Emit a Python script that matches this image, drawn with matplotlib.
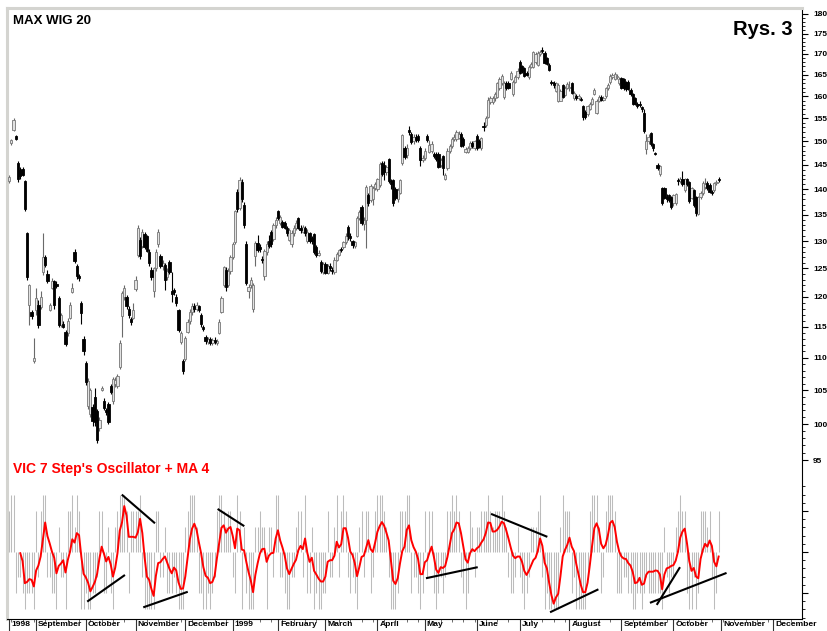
import numpy as np
import matplotlib
matplotlib.use("Agg")
import matplotlib.pyplot as plt
from matplotlib.ticker import FixedLocator, NullFormatter, FixedFormatter

plt.rcParams['font.family'] = ['Liberation Sans', 'DejaVu Sans']
plt.rcParams['font.weight'] = 'bold'

# ---------------- data (one entry per trading day) ----------------
opens = [
141.6,149.6,152.5,151.2,145.4,144.0,144.2,141.6,131.6,118.7,
117.4,109.5,117.8,118.7,118.3,124.3,127.0,124.0,117.8,121.5,
122.7,122.2,119.8,115.3,115.5,114.2,114.0,116.5,120.9,127.9,
125.4,123.6,119.0,113.0,109.2,102.6,101.5,102.5,104.0,101.9,
99.4,105.0,103.4,101.9,103.0,105.7,103.4,106.0,105.7,108.5,
116.7,120.0,120.0,118.0,116.3,116.5,121.3,127.4,130.3,129.1,
131.3,130.9,128.0,124.8,121.0,125.0,129.5,127.2,125.5,125.7,
123.5,126.1,121.0,121.2,120.0,117.8,112.5,109.5,109.8,114.2,
116.0,117.5,118.5,118.0,118.4,117.0,114.9,113.3,112.5,113.0,
112.4,112.9,112.3,114.0,117.5,122.1,124.8,122.1,124.5,127.0,
129.8,139.4,136.3,141.5,137.0,129.4,121.0,122.0,118.0,127.2,
129.6,129.0,126.8,123.6,128.0,130.0,131.7,130.4,133.0,135.7,
133.4,133.6,133.5,132.5,130.3,129.4,131.5,132.5,134.3,132.5,
131.8,132.5,130.0,131.5,130.5,131.3,129.0,127.5,126.1,124.3,
125.8,124.2,125.5,124.8,124.4,126.6,127.5,128.5,128.9,129.8,
132.6,131.0,130.0,129.1,131.0,134.4,136.6,133.2,134.0,138.8,
137.8,138.0,140.3,140.0,140.9,145.4,145.0,143.5,146.2,141.6,
141.8,140.0,138.0,139.3,145.4,148.6,147.0,152.4,151.5,150.0,
151.0,151.2,148.6,146.0,146.5,151.2,147.8,148.0,147.2,147.3,
147.3,145.0,146.8,142.1,144.4,148.0,148.9,150.5,150.4,150.8,
151.5,150.5,147.8,147.8,148.5,149.6,148.5,151.2,150.0,148.5,
153.2,153.5,155.4,158.6,158.6,159.5,159.8,161.8,163.0,159.8,
163.0,163.0,164.0,160.5,163.4,164.5,168.0,167.0,166.5,165.3,
164.4,166.8,166.8,168.0,167.4,170.0,170.9,170.2,169.0,167.4,
163.2,163.0,161.3,159.0,159.0,162.5,160.3,162.0,161.8,163.0,
159.5,160.0,159.5,159.4,157.8,156.5,155.9,157.2,158.3,160.4,
156.3,159.0,159.9,159.1,160.0,161.8,163.2,164.5,164.0,164.4,
163.0,164.2,164.0,163.3,163.4,161.5,160.5,159.5,158.3,158.2,
157.5,156.2,148.3,150.0,151.7,149.4,147.5,145.0,143.1,140.2,
140.2,138.5,138.8,138.4,137.2,137.3,141.9,141.6,142.0,139.9,
142.0,141.4,138.3,139.8,138.4,135.2,138.4,139.2,140.5,141.3,
140.8,139.4,139.8,141.2,142.1]
highs = [
143.0,150.5,155.0,151.4,145.8,144.5,144.6,141.8,131.8,122.3,
117.8,113.2,121.5,119.5,121.0,131.6,127.5,124.8,119.0,123.3,
123.0,122.8,120.2,117.3,116.0,114.5,116.5,119.2,122.5,128.5,
125.8,124.0,119.3,113.5,109.5,106.8,105.4,103.0,105.3,102.2,
101.0,105.6,103.8,102.3,103.3,106.0,107.0,107.0,107.5,112.8,
121.0,122.0,120.4,118.5,116.6,119.0,123.6,133.0,130.8,132.2,
131.7,131.2,128.5,125.2,125.3,128.5,132.2,127.6,126.5,126.0,
125.0,126.5,124.4,121.5,120.5,118.0,114.3,109.8,113.5,116.2,
118.0,119.0,119.0,119.2,118.6,117.3,115.3,113.6,113.3,113.3,
113.2,113.3,113.0,116.2,120.2,125.5,125.2,125.0,127.5,129.8,
136.0,140.0,142.5,142.0,137.5,130.0,122.3,123.5,122.5,130.0,
131.2,129.5,127.2,128.6,130.0,131.2,132.0,133.5,134.5,136.0,
135.0,134.0,133.8,132.8,132.5,132.0,133.0,134.0,134.6,133.0,
133.0,132.8,132.2,131.8,131.0,131.6,129.3,128.3,126.5,126.2,
126.1,125.8,126.0,125.2,127.0,128.0,128.6,129.0,130.1,131.5,
133.0,131.5,130.3,130.0,134.8,136.0,137.0,134.5,140.8,139.2,
141.0,140.6,141.5,142.4,145.6,145.8,145.8,145.0,146.5,142.0,
142.0,140.5,140.2,142.2,151.6,149.0,149.5,153.3,152.0,151.5,
151.5,151.5,149.0,147.0,148.5,151.5,150.2,150.0,147.8,147.6,
147.6,146.5,147.0,143.4,148.5,149.5,151.0,151.5,152.4,152.3,
152.0,151.0,148.8,149.0,150.0,150.0,150.3,151.5,150.5,151.0,
154.2,155.5,159.8,160.0,160.0,161.0,163.4,164.5,165.2,163.5,
163.5,163.5,166.0,163.8,165.0,166.5,168.4,167.3,166.8,165.8,
167.2,168.0,170.8,170.5,170.6,171.0,171.8,170.6,169.3,167.7,
163.7,163.5,163.3,163.0,161.6,162.8,162.4,163.3,163.5,163.3,
161.1,160.4,160.4,159.9,158.1,156.8,158.1,158.6,159.8,162.0,
159.4,160.2,160.2,160.0,162.2,163.0,165.2,165.4,165.6,165.2,
164.4,164.5,164.3,163.6,163.7,161.8,160.8,159.8,158.6,159.0,
157.8,157.0,151.5,151.5,152.0,149.7,147.8,145.3,145.0,140.5,
140.5,139.0,139.1,138.7,139.0,139.3,142.4,142.5,143.8,142.4,
142.3,141.7,140.5,140.0,138.7,138.7,139.6,141.6,142.4,141.6,
141.2,139.8,141.5,141.8,142.5]
lows = [
141.3,149.3,152.3,150.2,141.5,142.0,142.8,135.8,123.0,115.3,
116.3,109.2,117.0,114.8,118.0,123.8,125.3,122.5,117.6,121.3,
118.0,121.5,115.0,115.0,114.8,111.8,113.5,116.2,120.7,126.0,
123.2,122.8,115.5,110.5,105.8,102.2,101.0,99.8,99.8,97.4,
99.0,104.8,102.0,101.3,100.0,104.4,103.0,105.5,105.4,108.2,
113.3,119.5,118.0,116.5,115.3,116.3,121.0,127.0,126.8,128.8,
128.5,127.9,125.5,123.0,120.0,124.5,129.0,125.0,124.8,121.2,
123.0,124.0,119.2,120.3,118.5,114.2,112.2,107.5,109.5,114.0,
115.5,117.0,117.5,117.6,117.5,115.0,114.3,112.2,112.2,112.0,
112.0,112.2,112.0,113.8,117.3,121.8,121.0,121.8,124.0,126.8,
129.5,135.5,136.0,137.5,132.5,122.0,119.8,121.5,117.5,125.4,
128.0,128.0,126.0,123.0,127.5,128.8,129.0,130.0,132.5,134.0,
133.0,132.4,132.2,131.0,130.0,129.0,131.0,132.0,132.2,131.5,
131.5,131.0,129.7,129.7,129.5,127.7,127.0,127.2,124.2,124.0,
124.0,124.0,124.5,124.0,124.0,126.3,127.2,128.0,128.6,129.5,
130.3,130.0,128.8,128.8,130.7,134.0,133.0,132.0,128.8,136.8,
137.5,137.0,139.8,139.6,140.5,142.8,141.8,143.0,141.2,140.0,
136.8,137.8,137.5,139.0,145.0,146.2,146.5,151.3,149.5,149.5,
149.8,149.8,144.8,145.5,146.0,149.8,147.5,147.5,146.5,145.8,
144.3,144.5,143.0,141.8,144.0,147.5,148.6,150.0,150.0,150.5,
148.7,148.8,147.5,147.4,148.2,148.5,148.2,148.2,148.5,148.2,
152.3,153.0,155.0,158.3,158.3,159.0,159.5,161.5,162.7,159.3,
161.5,161.6,163.7,160.0,163.0,164.0,165.2,165.5,164.5,164.6,
164.0,166.5,166.5,167.5,167.0,169.5,170.2,167.5,167.2,165.8,
162.6,162.0,161.0,158.7,158.8,159.5,160.0,161.6,161.3,160.5,
159.2,159.2,159.2,158.8,154.6,154.8,155.6,156.9,158.0,160.2,
156.0,158.6,158.8,158.8,159.7,161.4,162.8,164.0,163.7,164.0,
162.7,161.7,161.5,161.3,161.4,160.0,158.0,158.0,157.4,157.5,
156.5,151.8,147.3,149.5,149.0,148.0,147.0,144.0,142.8,137.0,
138.0,137.5,137.5,136.2,136.8,137.0,140.8,141.2,140.6,139.5,
140.6,137.3,138.0,136.6,134.7,134.9,138.0,138.9,140.1,139.9,
139.2,138.8,139.5,140.8,141.5]
closes = [
142.6,150.3,154.6,150.5,142.0,142.8,143.0,136.2,123.4,122.1,
116.7,110.0,119.8,115.3,120.0,127.1,125.7,122.7,118.7,122.7,
118.7,121.9,115.3,116.9,115.0,112.2,116.0,118.7,121.5,126.3,
123.6,123.3,117.3,111.0,106.2,106.4,105.0,100.4,100.3,97.8,
100.6,105.4,102.3,101.7,100.3,104.7,106.7,106.5,107.2,112.4,
120.7,121.5,118.4,117.0,115.7,117.8,123.0,132.5,127.2,131.8,
128.9,128.2,126.0,123.4,125.0,128.0,131.8,125.4,126.0,123.0,
124.5,124.3,120.5,120.8,119.0,114.5,114.0,108.0,113.2,115.8,
117.5,118.5,118.0,118.6,117.8,115.5,114.6,112.6,113.0,112.4,
112.9,112.5,112.7,115.8,119.8,125.2,121.8,124.5,127.0,129.4,
135.7,136.2,141.8,138.0,133.0,122.5,121.8,123.0,122.1,129.6,
128.4,128.5,126.5,128.2,129.5,129.1,129.5,133.1,134.0,134.4,
134.5,132.7,132.5,131.5,132.1,131.6,132.5,133.5,132.5,132.0,
132.7,131.5,131.8,130.0,130.0,128.0,127.5,127.8,124.5,125.8,
124.2,125.5,125.0,124.5,126.6,127.6,128.3,128.3,129.8,131.0,
131.0,130.5,129.2,129.8,134.4,135.5,133.5,134.0,140.4,137.2,
140.6,140.3,141.0,142.0,145.2,143.2,143.6,144.5,141.6,141.0,
137.3,138.2,139.8,141.8,151.3,146.6,148.5,152.0,149.8,151.0,
150.2,150.2,146.0,146.5,148.0,150.2,149.2,149.5,146.9,146.2,
144.6,146.0,144.4,143.0,148.0,149.0,150.5,151.0,152.0,151.5,
149.0,149.2,148.4,148.6,149.6,149.0,150.0,148.5,148.8,150.6,
153.0,155.0,159.2,159.6,159.5,160.5,163.0,164.0,164.7,163.0,
161.8,162.0,165.5,163.4,164.5,166.0,165.5,166.0,164.8,165.0,
166.8,167.5,170.4,170.0,170.2,170.5,170.6,167.9,167.5,166.2,
163.0,162.5,163.0,162.5,161.3,159.8,162.0,162.8,162.2,160.8,
160.8,159.6,160.1,159.1,155.2,155.2,157.8,158.3,159.4,161.5,
159.0,159.8,159.1,159.6,161.8,162.5,164.8,165.0,165.2,164.8,
164.0,162.0,161.8,161.6,161.7,160.5,158.3,158.3,157.8,157.9,
157.0,152.2,150.0,151.0,149.4,148.5,147.2,144.4,144.8,137.3,
138.3,138.0,137.8,136.5,138.8,139.0,141.6,142.0,141.0,142.0,
141.0,137.6,140.2,137.0,135.4,138.4,139.2,141.2,141.0,140.2,
139.5,139.2,141.2,141.5,141.8]

# VIC 7 step oscillator (daily bars) and its 4-day MA (red line, starts at day 5)
osc_bars = [
1.0,1.4,1.4,-1.0,-0.6,-0.6,-1.0,-1.4,-1.0,-1.0,
-1.0,-1.4,1.0,-0.6,1.0,1.4,1.4,-0.6,-0.6,-1.0,
-1.0,-1.4,0.6,-0.6,-0.6,-1.4,1.0,1.0,1.4,0.6,
1.4,1.0,-1.4,-1.4,-1.0,-1.4,-1.4,-1.0,-1.0,-0.6,
1.0,1.0,-1.0,-1.0,0.6,-1.0,-1.4,0.6,1.0,1.4,
1.4,1.4,1.0,-1.0,1.0,1.0,1.0,1.0,1.4,-0.6,
-1.4,-1.4,-1.4,-1.4,-1.4,1.0,1.0,-0.6,-0.6,0.6,
-1.0,-1.0,-1.0,-0.6,-1.0,-1.4,-1.4,-1.4,0.6,1.0,
1.4,1.4,1.4,0.6,-1.0,-1.0,-1.4,-1.4,-1.0,-1.4,
-1.0,-0.6,1.0,1.4,1.4,1.0,0.6,1.0,1.0,-0.6,
-1.0,1.4,1.0,-1.4,0.6,-1.0,-1.4,-1.4,-1.4,0.6,
0.6,1.0,0.6,0.6,-1.4,0.6,0.6,-0.6,1.4,1.4,
-0.6,-0.6,-1.0,-1.4,-1.4,-0.6,-0.6,0.6,1.0,1.0,
-0.6,1.4,-1.0,-1.0,0.6,-1.4,-1.0,-1.4,-1.4,-1.0,
-1.0,1.0,-0.6,-0.6,0.6,1.4,-0.6,1.0,1.4,1.0,
-0.6,-1.0,-0.6,-1.0,-1.4,0.6,1.0,-0.6,1.0,1.0,
-1.0,-0.6,1.0,1.4,1.4,1.4,1.0,0.6,-0.6,-1.4,
-1.4,-1.4,-1.0,1.0,1.0,1.0,1.4,1.4,-1.0,-0.6,
-0.6,-1.0,-1.4,-1.0,1.0,-0.6,1.0,1.0,-1.0,-1.4,
-1.0,-0.6,-1.0,-0.6,1.0,1.0,1.4,1.0,1.4,1.0,
-0.6,-1.0,-1.4,-1.0,1.0,0.6,-0.6,0.6,0.6,1.0,
1.0,1.0,1.4,1.0,0.6,1.0,1.0,1.0,1.4,1.0,
0.6,-0.6,-1.0,-1.0,-0.6,0.6,-0.6,-1.0,-1.4,-1.0,
-0.6,0.6,0.6,0.6,1.0,1.4,-0.6,-1.4,-1.0,-1.4,
-1.4,-1.4,-1.4,-1.4,0.6,1.4,1.0,1.0,1.0,-1.0,
-0.6,-1.4,-1.4,-1.4,-1.4,-1.4,-0.6,1.0,1.4,1.4,
1.4,0.6,-1.0,-0.6,1.0,1.4,1.4,1.4,1.0,-1.0,
-1.0,-1.0,-0.6,-0.6,-1.0,-1.0,-1.4,-1.4,-1.0,-1.0,
-1.4,-1.0,-0.6,-1.0,-1.0,-1.0,-1.0,-1.0,-1.0,-1.4,
0.6,-0.6,-1.0,-0.6,-0.6,0.6,1.0,1.4,1.0,1.0,
-1.0,-1.4,-1.4,-0.6,-1.4,-1.0,1.0,1.0,1.0,0.6,
1.0,-0.6,-1.4,-1.0,1.0]
ma_start_day = 5
osc_ma = [
-0.03,-0.22,-0.76,-0.73,-0.66,-0.68,-0.84,-0.45,-0.33,-0.11,
0.30,0.72,0.39,0.21,0.01,-0.14,-0.52,-0.34,-0.28,-0.20,
-0.50,-0.20,0.01,0.31,0.23,0.46,0.41,-0.11,-0.53,-0.62,
-0.75,-0.96,-0.85,-0.73,-0.53,-0.16,0.13,-0.04,-0.23,-0.12,
-0.30,-0.60,-0.38,-0.03,0.52,0.72,1.12,0.89,0.37,0.37,
0.37,0.35,0.48,0.81,0.46,-0.13,-0.60,-0.68,-0.90,-1.07,
-0.58,-0.27,-0.25,-0.17,-0.11,-0.26,-0.41,-0.52,-0.38,-0.45,
-0.74,-0.90,-0.89,-0.60,-0.15,0.30,0.57,0.69,0.54,0.24,
-0.03,-0.37,-0.58,-0.63,-0.76,-0.73,-0.58,-0.15,0.22,0.59,
0.65,0.47,0.57,0.61,0.39,0.09,0.57,0.53,0.06,0.04,
-0.24,-0.49,-0.70,-0.98,-0.56,-0.28,-0.04,0.07,0.08,-0.24,
-0.09,-0.03,-0.02,0.33,0.53,0.28,0.11,-0.09,-0.40,-0.54,
-0.41,-0.29,-0.19,0.04,0.15,0.07,0.33,-0.02,-0.24,-0.14,
-0.46,-0.55,-0.65,-0.72,-0.72,-0.60,-0.24,-0.20,-0.20,-0.09,
0.25,0.11,0.19,0.58,0.58,0.35,0.01,-0.07,-0.27,-0.59,
-0.37,-0.12,-0.09,0.10,0.29,0.07,0.00,0.23,0.49,0.63,
0.73,0.64,0.47,0.28,-0.20,-0.70,-0.78,-0.64,-0.28,0.02,
0.13,0.54,0.65,0.29,0.12,0.01,-0.17,-0.54,-0.54,-0.25,
-0.20,-0.02,0.13,-0.12,-0.43,-0.51,-0.37,-0.39,-0.34,-0.12,
0.17,0.46,0.55,0.72,0.70,0.46,0.14,-0.18,-0.26,-0.03,
0.07,0.02,0.09,0.13,0.23,0.31,0.47,0.72,0.71,0.50,
0.50,0.54,0.62,0.74,0.70,0.53,0.33,0.11,-0.09,-0.15,
-0.11,-0.11,-0.24,-0.46,-0.56,-0.46,-0.33,-0.20,-0.14,0.03,
0.33,0.15,-0.26,-0.40,-0.75,-1.05,-1.26,-1.11,-1.02,-0.59,
-0.11,0.05,0.17,0.35,0.13,0.02,-0.29,-0.54,-0.80,-0.98,
-0.98,-0.75,-0.32,0.15,0.58,0.70,0.55,0.20,0.09,0.18,
0.41,0.71,0.76,0.61,0.25,0.01,-0.11,-0.16,-0.17,-0.27,
-0.33,-0.49,-0.76,-0.74,-0.63,-0.80,-0.77,-0.55,-0.48,-0.48,
-0.48,-0.45,-0.46,-0.55,-0.91,-0.55,-0.40,-0.38,-0.34,-0.32,
-0.21,0.01,0.35,0.50,0.57,0.21,-0.22,-0.46,-0.39,-0.60,
-0.64,-0.17,0.05,0.20,0.13,0.28,0.15,-0.24,-0.35,-0.11]

# hand-drawn divergence lines on the oscillator: (day, value) -> (day, value)
trend_lines = [
    ((34.6, -1.21), (51.3, -0.56)),
    ((49.9, 1.40), (64.6, 0.70)),
    ((59.4, -1.35), (79.1, -0.97)),
    ((92.3, 1.05), (104.1, 0.63)),
    ((184.5, -0.64), (207.4, -0.37)),
    ((213.3, 0.93), (238.2, 0.37)),
    ((239.4, -1.47), (260.8, -0.91)),
    ((283.6, -1.24), (317.5, -0.51)),
    ((286.6, -1.29), (296.9, -0.37)),
]

month_labels = ['1998', 'September', 'October', 'November', 'December', '1999',
                'February', 'March', 'April', 'May', 'June', 'July', 'August',
                'September', 'October', 'November', 'December']
month_start_day = [0, 12, 34, 56, 78, 99, 119, 140, 163, 184, 207, 226, 248,
                   271, 294, 315, 338]
price_ticks = list(range(95, 181, 5))

# ---------------- layout ----------------
W, H = 827, 631
fig = plt.figure(figsize=(W / 100, H / 100), dpi=100)
fig.patch.set_facecolor('white')


def rect(x0, y0, x1, y1):
    return [x0 / W, 1 - y1 / H, (x1 - x0) / W, (y1 - y0) / H]


PX_DAY = 2.26          # pixels per trading day
X0 = 9                 # pixel of day 0
PPL = 697.9            # pixels per ln(price)
AX_L, AX_T, AX_R, AX_B = 7, 8, 802, 619

ax = fig.add_axes(rect(AX_L, AX_T, AX_R, AX_B))
ax.set_facecolor('white')
ax.set_xlim((AX_L - X0) / PX_DAY, (AX_R - X0) / PX_DAY)
ax.set_yscale('log')
ax.set_ylim(180 * np.exp((14 - AX_B) / PPL), 180 * np.exp((14 - AX_T) / PPL))

n = min(len(opens), len(highs), len(lows), len(closes))
days = np.arange(n)
o = np.array(opens[:n]); h = np.array(highs[:n])
l = np.array(lows[:n]); c = np.array(closes[:n])
up = c >= o

# wicks
ax.vlines(days[up], l[up], h[up], color='#6a6a6a', lw=0.8, zorder=2)
ax.vlines(days[~up], l[~up], h[~up], color='black', lw=0.8, zorder=2)
# bodies
bot = np.minimum(o, c)
hgt = np.maximum(np.abs(c - o), 0.3)
ax.bar(days[up], hgt[up], bottom=bot[up], width=1.0, color='#e2e2e2',
       edgecolor='#777777', lw=0.6, zorder=3)
ax.bar(days[~up], hgt[~up], bottom=bot[~up], width=1.0, color='black',
       edgecolor='black', lw=0.6, zorder=3)

# oscillator on a twin axes
ax2 = ax.twinx()
osc_lo = (552 - AX_B) / 41.0
osc_hi = (552 - AX_T) / 41.0
ax2.set_ylim(osc_lo, osc_hi)
nb = len(osc_bars)
ax2.vlines(np.arange(nb), 0, osc_bars, color='#bcbcbc', lw=0.75, zorder=1)
ma_days = np.arange(ma_start_day, ma_start_day + len(osc_ma))
ax2.plot(ma_days, osc_ma, color='#ff0000', lw=1.4, zorder=3)
for (d0, v0), (d1, v1) in trend_lines:
    ax2.plot([d0, d1], [v0, v1], color='black', lw=1.5, zorder=4,
             solid_capstyle='butt')

# spines
for a in (ax, ax2):
    for s in a.spines.values():
        s.set_visible(False)
ax.spines['top'].set_visible(True)
ax.spines['top'].set_color('#d4d4d0')
ax.spines['top'].set_linewidth(2.2)
ax.spines['left'].set_visible(True)
ax.spines['left'].set_color('#d4d4d0')
ax.spines['left'].set_linewidth(2.2)
ax.spines['right'].set_visible(True)
ax.spines['right'].set_color('black')
ax.spines['right'].set_linewidth(0.8)
ax.spines['bottom'].set_visible(True)
ax.spines['bottom'].set_color('black')
ax.spines['bottom'].set_linewidth(0.8)

# price ticks (right)
ax.yaxis.tick_right()
ax.yaxis.set_major_locator(FixedLocator(price_ticks))
ax.yaxis.set_major_formatter(FixedFormatter([str(t) for t in price_ticks]))
ax.yaxis.set_minor_locator(FixedLocator([v for v in range(95, 181) if v % 5]))
ax.yaxis.set_minor_formatter(NullFormatter())
ax.tick_params(axis='y', which='major', direction='out', length=4, width=0.8,
               pad=4, labelsize=6, right=True, left=False)
ax.tick_params(axis='y', which='minor', direction='out', length=2, width=0.6,
               right=True, left=False)

# oscillator ticks (right)
ax2.yaxis.set_major_locator(FixedLocator([-1, 0, 1]))
ax2.yaxis.set_major_formatter(NullFormatter())
ax2.yaxis.set_minor_locator(FixedLocator([-1.6, -1.4, -1.2, -0.8, -0.6, -0.4, -0.2,
                                          0.2, 0.4, 0.6, 0.8, 1.2, 1.4, 1.6]))
ax2.tick_params(axis='y', which='major', direction='out', length=4, width=0.8)
ax2.tick_params(axis='y', which='minor', direction='out', length=2, width=0.6)

# x axis ticks: month separators + weekly ticks
ax.xaxis.set_major_locator(FixedLocator(month_start_day))
ax.xaxis.set_major_formatter(NullFormatter())
ax.xaxis.set_minor_locator(FixedLocator([d for d in range(1, 350, 5)
                                         if d not in month_start_day]))
ax.tick_params(axis='x', which='major', direction='out', length=10, width=0.8,
               color='#333333')
ax.tick_params(axis='x', which='minor', direction='out', length=2.5, width=0.6,
               color='#555555')

# month labels just below the axis (kept fully inside the picture)
for lbl, d in zip(month_labels, month_start_day):
    ax.annotate(lbl, xy=(d, 0), xycoords=('data', 'axes fraction'),
                xytext=(2, -(620.5 - AX_B)), textcoords='offset pixels',
                ha='left', va='top', fontsize=6.1, fontweight='bold',
                color='black', annotation_clip=False)

# titles
fig.text(13 / W, 1 - 15 / H, 'MAX WIG 20', fontsize=9.5, fontweight='bold',
         ha='left', va='top', color='black')
fig.text(793 / W, 1 - 20 / H, 'Rys. 3', fontsize=14.5, fontweight='bold',
         ha='right', va='top', color='black')
fig.text(13 / W, 1 - 462 / H, "VIC 7 Step's Oscillator + MA 4", fontsize=10,
         fontweight='bold', ha='left', va='top', color='#ff0000')

fig.savefig('out.png', dpi=100, facecolor='white')
